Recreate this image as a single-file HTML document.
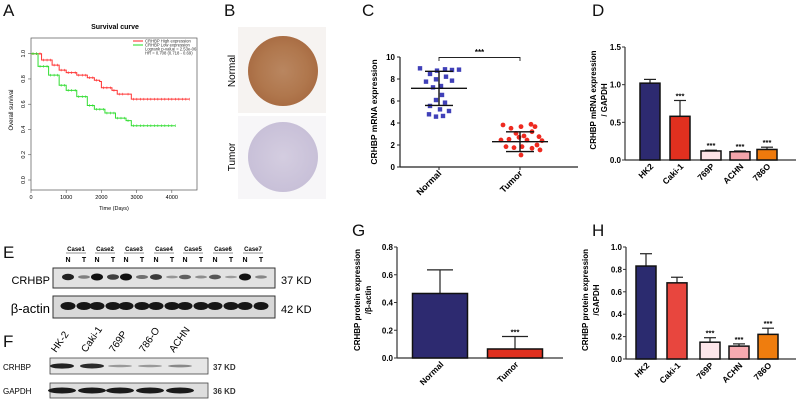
<!DOCTYPE html>
<html><head><meta charset="utf-8"><style>
html,body{margin:0;padding:0;background:#fff}
svg{display:block;font-family:"Liberation Sans",Arial,sans-serif}
</style></head><body>
<svg id="fig" width="796" height="402" viewBox="0 0 796 402" xmlns="http://www.w3.org/2000/svg">
<defs>
<radialGradient id="gN" cx="50%" cy="50%" r="50%"><stop offset="0" stop-color="#b98660"/><stop offset="0.7" stop-color="#b0774d"/><stop offset="1" stop-color="#a96d44"/></radialGradient>
<radialGradient id="gT" cx="50%" cy="50%" r="50%"><stop offset="0" stop-color="#d4cde0"/><stop offset="1" stop-color="#c8c0d8"/></radialGradient>
</defs>
<g font-size="17" fill="#111">
<text x="3" y="16">A</text>
<text x="224" y="16">B</text>
<text x="362" y="16">C</text>
<text x="592" y="16">D</text>
<text x="3" y="258">E</text>
<text x="3" y="347">F</text>
<text x="352" y="236">G</text>
<text x="592" y="236">H</text>
</g>

<g id="pa">
<text x="115" y="29" font-size="7" font-weight="bold" text-anchor="middle">Survival curve</text>
<rect x="31" y="38" width="166" height="152" fill="none" stroke="#555" stroke-width="0.7"/>
<text transform="translate(13,110) rotate(-90)" font-size="6" text-anchor="middle">Overall survival</text>
<text x="114" y="210" font-size="5.5" text-anchor="middle">Time (Days)</text>
<line x1="133" y1="41" x2="143" y2="41" stroke="#f22"/>
<line x1="133" y1="45" x2="143" y2="45" stroke="#2d2"/>
<g font-size="4.2" fill="#333">
<text x="145" y="42.5">CRHBP High expression</text>
<text x="145" y="46.5">CRHBP Low expression</text>
<text x="145" y="50.5">Logrank p-value = 2.53e-06</text>
<text x="145" y="54.5">HR = 0.708 (0.718 - 0.69)</text>
</g>
</g>

<g>
<rect x="238" y="27" width="88" height="86" fill="#f6f3f1"/>
<circle cx="283" cy="71" r="35" fill="url(#gN)"/>
<rect x="238" y="116" width="88" height="83" fill="#f7f6f8"/>
<circle cx="283" cy="157" r="35" fill="url(#gT)"/>
<text transform="translate(235,71) rotate(-90)" font-size="10" text-anchor="middle">Normal</text>
<text transform="translate(235,157) rotate(-90)" font-size="10" text-anchor="middle">Tumor</text>
</g>

<g id="pc"></g>
<g id="pd"></g>
<g id="pg"></g>
<g id="ph"></g>

<g id="pe">
<text x="50" y="284" font-size="11" text-anchor="end">CRHBP</text>
<text x="50" y="313" font-size="13" text-anchor="end">β-actin</text>
<rect x="53" y="268" width="222" height="20" fill="#e2e2e2" stroke="#333" stroke-width="1"/>
<rect x="53" y="296" width="222" height="22" fill="#d8d8d8" stroke="#333" stroke-width="1"/>
<text x="281" y="284" font-size="11">37 KD</text>
<text x="281" y="313" font-size="11">42 KD</text>
</g>

<g id="pf">
<text x="3" y="370" font-size="8">CRHBP</text>
<text x="3" y="394" font-size="8">GAPDH</text>
<rect x="50" y="358" width="158" height="16" fill="#e6e6e6" stroke="#444" stroke-width="0.8"/>
<rect x="50" y="383" width="158" height="15" fill="#dedede" stroke="#444" stroke-width="0.8"/>
<text x="213" y="370" font-size="8" font-weight="bold" fill="#333">37 KD</text>
<text x="213" y="394" font-size="8" font-weight="bold" fill="#333">36 KD</text>
</g>

<g id="pa-curves"></g>
</svg>
<script>
const survXTicks = [0, 1000, 2000, 3000, 4000];
const survYTicks = [0.0, 0.2, 0.4, 0.6, 0.8, 1.0];
const highTime = [0, 300, 600, 800, 1000, 1300, 1600, 1800, 1950, 2000, 2300, 2450, 2700, 2850, 4500];
const highSurv = [1.0, 0.95, 0.91, 0.87, 0.85, 0.83, 0.81, 0.79, 0.78, 0.73, 0.71, 0.68, 0.68, 0.64, 0.64];
const lowTime = [0, 200, 500, 800, 1000, 1300, 1600, 1800, 2100, 2400, 2700, 2850, 4100];
const lowSurv = [1.0, 0.9, 0.83, 0.75, 0.71, 0.66, 0.59, 0.56, 0.53, 0.49, 0.47, 0.43, 0.43];

const groupsC = ["Normal", "Tumor"];
const normalVals = [8.97, 8.46, 8.76, 8.88, 8.82, 8.85, 7.76, 7.97, 8.21, 7.85, 7.24, 7.36, 6.55, 6.09, 5.85, 5.55, 5.24, 5.09, 4.79, 4.58, 4.64];
const tumorVals = [3.82, 3.52, 3.67, 3.88, 3.67, 3.06, 2.82, 3.21, 2.76, 2.45, 2.52, 2.7, 2.45, 2.0, 2.39, 1.85, 1.76, 1.85, 1.7, 1.55, 1.09];
const meanC = [7.15, 2.3];
const sdC = [1.55, 0.9];
const ticksC = [0, 2, 4, 6, 8, 10];

const cellLines = ["HK2", "Caki-1", "769P", "ACHN", "786O"];
const mrnaVals = [1.02, 0.58, 0.12, 0.11, 0.14];
const mrnaErr = [0.05, 0.21, 0.01, 0.01, 0.03];
const mrnaSig = ["", "***", "***", "***", "***"];
const ticksD = ["0.0", "0.5", "1.0", "1.5"];

const tissueGroups = ["Normal", "Tumor"];
const protTissueVals = [0.465, 0.065];
const protTissueErr = [0.17, 0.09];
const protTissueSig = ["", "***"];
const ticksG = ["0.0", "0.2", "0.4", "0.6", "0.8"];

const protCellVals = [0.83, 0.68, 0.15, 0.115, 0.22];
const protCellErr = [0.11, 0.05, 0.04, 0.02, 0.055];
const protCellSig = ["", "", "***", "***", "***"];
const ticksH = ["0.0", "0.2", "0.4", "0.6", "0.8", "1.0"];

const eCases = ["Case1", "Case2", "Case3", "Case4", "Case5", "Case6", "Case7"];
const eCrhbpN = [0.9, 1.0, 1.0, 0.75, 0.5, 0.55, 1.0];
const eCrhbpT = [0.3, 0.7, 0.4, 0.15, 0.2, 0.12, 0.25];
const fLanes = ["HK-2", "Caki-1", "769P", "786-O", "ACHN"];
const fCrhbp = [0.9, 0.85, 0.2, 0.2, 0.3];

const NS = "http://www.w3.org/2000/svg";
function mk(parent, tag, attrs, txt) {
  const e = document.createElementNS(NS, tag);
  for (const k in attrs) e.setAttribute(k, attrs[k]);
  if (txt !== undefined) e.textContent = txt;
  parent.appendChild(e);
  return e;
}

(function () {
  const g = document.getElementById("pa-curves");
  const sx = t => 31 + t * 0.0352;
  const sy = v => 180 - v * 126.3;
  survXTicks.forEach(t => {
    const l = mk(g, "line", {x1: sx(t), x2: sx(t), y1: 190, y2: 193, stroke: "#555", "stroke-width": 0.6});
    
    
    const tx = mk(g, "text", {x: sx(t), y: 199, "font-size": 5.5, "text-anchor": "middle"}, String(t));
    
    
  });
  survYTicks.forEach(v => {
    const l = mk(g, "line", {x1: 28, x2: 31, y1: sy(v), y2: sy(v), stroke: "#555", "stroke-width": 0.6});
    
    
    const tx = mk(g, "text", {transform: `translate(25,${sy(v)}) rotate(-90)`, "font-size": 5.5, "text-anchor": "middle"}, v.toFixed(1));
    
    
  });
  function curve(ts, vs, col, name) {
    let d = `M${sx(ts[0])},${sy(vs[0])}`;
    for (let i = 1; i < ts.length; i++) d += ` H${sx(ts[i])} V${sy(vs[i])}`;
    const p = mk(g, "path", {d: d, fill: "none", stroke: col, "stroke-width": 1});
    
    
    for (let i = 1; i < ts.length; i++) {
      const x0 = sx(ts[i - 1]), x1 = sx(ts[i]);
      for (let x = x0 + 2; x < x1; x += 3.5) {
        const c = mk(g, "line", {x1: x, x2: x, y1: sy(vs[i - 1]) - 1.3, y2: sy(vs[i - 1]) + 1.3, stroke: col, "stroke-width": 0.6});
        
        
      }
    }
  }
  curve(highTime, highSurv, "#f33", "high-expression-curve");
  curve(lowTime, lowSurv, "#3d3", "low-expression-curve");
})();

(function () {
  const g = document.getElementById("pc");
  const x0 = 400, y0 = 167, ytop = 57;
  const sy = v => y0 - v * (y0 - ytop) / 10;
  const xs = [439, 520];
  mk(g, "line", {x1: x0, x2: x0, y1: ytop, y2: y0, stroke: "#222", "stroke-width": 1.2});
  const xa = mk(g, "line", {x1: x0, x2: 578, y1: y0, y2: y0, stroke: "#222", "stroke-width": 1.2});
  
  
  ticksC.forEach(v => {
    mk(g, "line", {x1: x0 - 3, x2: x0, y1: sy(v), y2: sy(v), stroke: "#222", "stroke-width": 1});
    const t = mk(g, "text", {x: x0 - 5, y: sy(v) + 3, "font-size": 8, "font-weight": "bold", "text-anchor": "end"}, String(v));
    
    
  });
  const yt = mk(g, "text", {transform: "translate(377,112) rotate(-90)", "font-size": 8.5, "font-weight": "bold", "text-anchor": "middle"}, "CRHBP mRNA expression");
  
  
  groupsC.forEach((n, i) => {
    mk(g, "line", {x1: xs[i], x2: xs[i], y1: y0, y2: y0 + 3, stroke: "#222"});
    const t = mk(g, "text", {transform: `translate(${xs[i] + 3},${y0 + 7}) rotate(-45)`, "font-size": 9, "font-weight": "bold", "text-anchor": "end"}, n);
    
    
  });
  const jit = [-19, -9, -2, 6, 13, 20, -13, -3, 7, 13, -6, 2, 3, -3, 6, -9, 1, 10, -10, -3, 4];
  normalVals.forEach((v, i) => {
    const r = mk(g, "rect", {x: xs[0] + jit[i % jit.length] - 2.2, y: sy(v) - 2.2, width: 4.4, height: 4.4, fill: "#4040b8"});
    
    
  });
  const jitT = [-17, -9, 1, 11, 15, -4, 4, 12, 19, -19, -11, -1, 7, 17, 22, -14, -6, 2, 12, 20, 1];
  tumorVals.forEach((v, i) => {
    const c = mk(g, "circle", {cx: xs[1] + jitT[i % jitT.length], cy: sy(v), r: 2.4, fill: "#ee2a20"});
    
    
  });
  meanC.forEach((m, i) => {
    const x = xs[i];
    mk(g, "line", {x1: x - 28, x2: x + 28, y1: sy(m), y2: sy(m), stroke: "#111", "stroke-width": 1.4});
    mk(g, "line", {x1: x, x2: x, y1: sy(m - sdC[i]), y2: sy(m + sdC[i]), stroke: "#111", "stroke-width": 1.4});
    mk(g, "line", {x1: x - 14, x2: x + 14, y1: sy(m + sdC[i]), y2: sy(m + sdC[i]), stroke: "#111", "stroke-width": 1.4});
    mk(g, "line", {x1: x - 14, x2: x + 14, y1: sy(m - sdC[i]), y2: sy(m - sdC[i]), stroke: "#111", "stroke-width": 1.4});
  });
  mk(g, "path", {d: `M${xs[0]},61 V57.5 H${xs[1]} V61`, fill: "none", stroke: "#222", "stroke-width": 0.9});
  const s = mk(g, "text", {x: (xs[0] + xs[1]) / 2, y: 55, "font-size": 8, "font-weight": "bold", "text-anchor": "middle"}, "***");
  
  
})();

function barChart(g, o) {
  const sy = v => o.y0 - v * (o.y0 - o.ytop) / o.ymax;
  mk(g, "line", {x1: o.x0, x2: o.x0, y1: o.ytop, y2: o.y0, stroke: "#333", "stroke-width": 1.2});
  mk(g, "line", {x1: o.x0, x2: o.xend, y1: o.y0, y2: o.y0, stroke: "#333", "stroke-width": 1.2});
  o.ticks.forEach(t => {
    const v = parseFloat(t);
    mk(g, "line", {x1: o.x0 - 3, x2: o.x0, y1: sy(v), y2: sy(v), stroke: "#333"});
    const tx = mk(g, "text", {x: o.x0 - 4, y: sy(v) + 3, "font-size": 8, "font-weight": "bold", "text-anchor": "end"}, t);
    
    
  });
  o.cats.forEach((c, i) => {
    const cx = o.cx[i], v = o.vals[i], e = o.err[i];
    const top = sy(v + e);
    mk(g, "line", {x1: cx, x2: cx, y1: sy(v), y2: top, stroke: "#222", "stroke-width": 1.2});
    mk(g, "line", {x1: cx - o.capw, x2: cx + o.capw, y1: top, y2: top, stroke: "#222", "stroke-width": 1.2});
    const r = mk(g, "rect", {x: cx - o.bw / 2, y: sy(v), width: o.bw, height: o.y0 - sy(v), fill: o.colors[i], stroke: "#111", "stroke-width": 1.5});
    
    
    if (o.sig[i]) {
      const s = mk(g, "text", {x: cx, y: top - 2, "font-size": 7.5, "font-weight": "bold", "text-anchor": "middle"}, o.sig[i]);
      
      
    }
    const lb = mk(g, "text", {transform: `translate(${cx + 4},${o.y0 + 7}) rotate(-45)`, "font-size": o.lfs, "font-weight": "bold", "text-anchor": "end"}, c);
    
    
  });
  o.ytitle.forEach((t, k) => {
    const tx = mk(g, "text", {transform: `translate(${o.ytx[k]},${o.ytcy}) rotate(-90)`, "font-size": 8, "font-weight": "bold", "text-anchor": "middle"}, t);
    
    
  });
}
const cellColorsD = ["#2d2a70", "#e0301f", "#fde3e6", "#f5a4aa", "#ef7a0c"];
barChart(document.getElementById("pd"), {prefix: "d", x0: 625, y0: 160, ytop: 47, ymax: 1.5, xend: 796,
  ticks: ticksD, cats: cellLines, cx: [650, 680, 711, 740, 767], vals: mrnaVals, err: mrnaErr, sig: mrnaSig,
  colors: cellColorsD, bw: 20, capw: 6, lfs: 8.5, ytitle: ["CRHBP mRNA expression", "/ GAPDH"], ytx: [596, 607], ytcy: 100});
barChart(document.getElementById("pg"), {prefix: "g", x0: 397, y0: 358, ytop: 247, ymax: 0.8, xend: 563,
  ticks: ticksG, cats: tissueGroups, cx: [440, 515], vals: protTissueVals, err: protTissueErr, sig: protTissueSig,
  colors: ["#2d2a70", "#e0301f"], bw: 55, capw: 13, lfs: 8.5, ytitle: ["CRHBP protein expression", "/β-actin"], ytx: [360, 371], ytcy: 300});
barChart(document.getElementById("ph"), {prefix: "h", x0: 626, y0: 359, ytop: 247, ymax: 1.0, xend: 796,
  ticks: ticksH, cats: cellLines, cx: [646, 677, 710, 739, 768], vals: protCellVals, err: protCellErr, sig: protCellSig,
  colors: ["#2b2b6f", "#e8463e", "#fde6ea", "#f7aab0", "#ef7d0e"], bw: 20, capw: 6, lfs: 8.5, ytitle: ["CRHBP protein expression", "/GAPDH"], ytx: [588, 599], ytcy: 300});

(function () {
  const g = document.getElementById("pe");
  const caseX = [76, 105, 134, 164, 193, 223, 253];
  eCases.forEach((c, i) => {
    const cx = caseX[i];
    const t = mk(g, "text", {x: cx, y: 251, "font-size": 6, "font-weight": "bold", "text-anchor": "middle"}, c);
    
    
    mk(g, "line", {x1: cx - 10, x2: cx + 10, y1: 253, y2: 253, stroke: "#222", "stroke-width": 0.6});
    const n = mk(g, "text", {x: cx - 8, y: 262, "font-size": 7, "font-weight": "bold", "text-anchor": "middle"}, "N");
    
    
    const tt = mk(g, "text", {x: cx + 8, y: 262, "font-size": 7, "font-weight": "bold", "text-anchor": "middle"}, "T");
    
    
    [[cx - 8, eCrhbpN[i]], [cx + 8, eCrhbpT[i]]].forEach(([x, v]) => {
      const b = mk(g, "ellipse", {cx: x, cy: 277, rx: 6, ry: 1 + v * 2.5, fill: "#111", opacity: 0.25 + v * 0.75});
      
      
      const a = mk(g, "ellipse", {cx: x, cy: 306, rx: 7.5, ry: 4, fill: "#161616"});
      
      
    });
  });
})();

(function () {
  const g = document.getElementById("pf");
  const lx = [62, 92, 120, 150, 180];
  fLanes.forEach((l, i) => {
    const t = mk(g, "text", {transform: `translate(${lx[i] - 6},${353}) rotate(-55)`, "font-size": 10}, l);
    
    
    const b = mk(g, "ellipse", {cx: lx[i], cy: 366, rx: 12, ry: 0.8 + fCrhbp[i] * 2, fill: "#111", opacity: 0.2 + fCrhbp[i] * 0.8});
    
    
    const a = mk(g, "ellipse", {cx: lx[i], cy: 390.5, rx: 14, ry: 3, fill: "#1a1a1a"});
    
    
  });
})();
</script>
</body></html>
